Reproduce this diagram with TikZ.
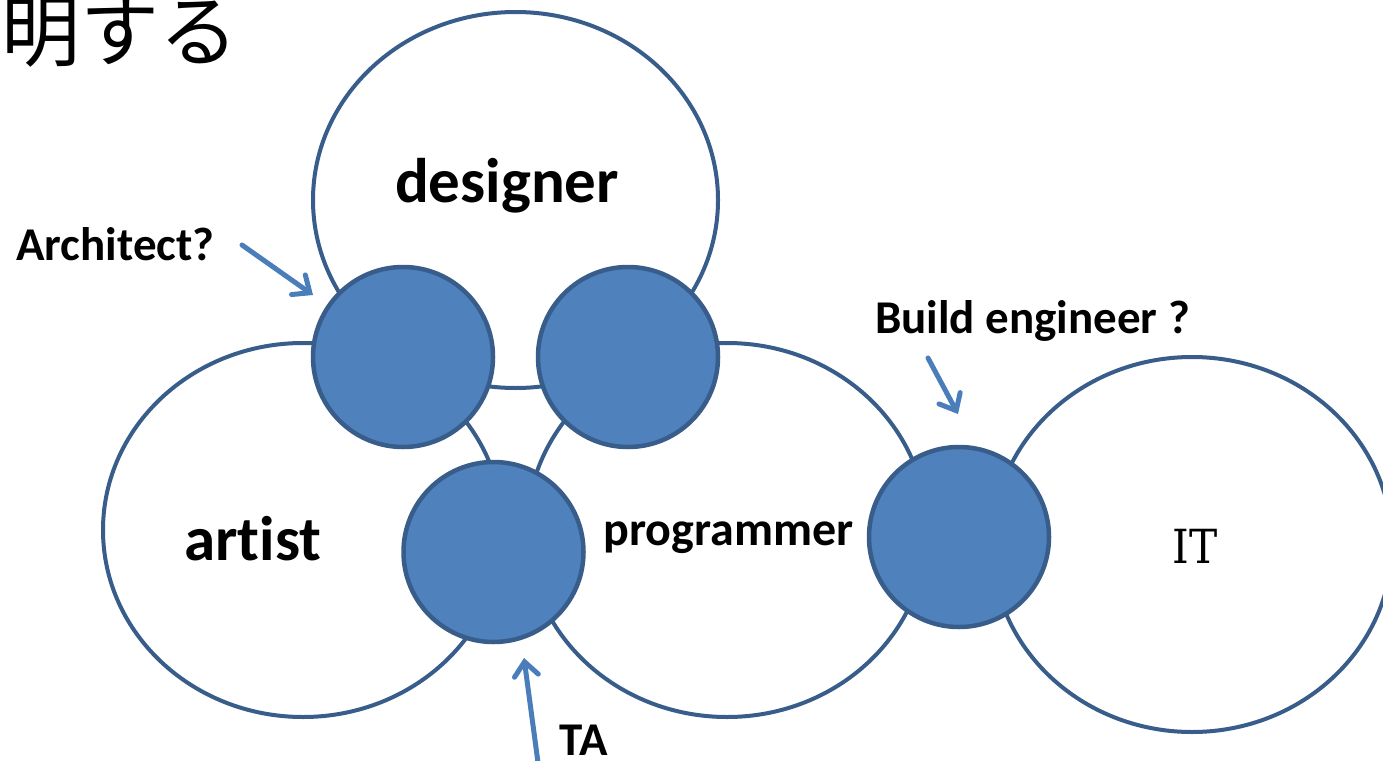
\documentclass[tikz,border=0pt]{standalone}
\usepackage{fontspec}
\setmainfont[Ligatures=NoCommon]{Carlito}
\newfontfamily\cjk{Noto Sans CJK JP}
\newfontfamily\slabfont[FakeStretch=0.9]{DejaVu Serif}
\usetikzlibrary{arrows.meta,shapes.geometric}
\definecolor{ringline}{HTML}{385D8A}
\definecolor{dotfill}{HTML}{4F81BD}
\definecolor{pointer}{HTML}{4A7EBB}

\begin{document}
\begin{tikzpicture}[x=1pt,y=-1pt,
  role/.style={ellipse, draw=ringline, line width=4pt, fill=white,
    minimum width=400pt, minimum height=374pt, inner sep=0pt},
  overlap/.style={circle, draw=ringline, line width=4.5pt, fill=dotfill,
    minimum size=180pt, inner sep=0pt},
  bigword/.style={font=\bfseries\fontsize{63}{70}\selectfont, anchor=base, inner sep=0pt},
  note/.style={font=\bfseries\fontsize{47}{52}\selectfont, anchor=base, inner sep=0pt},
  pointerarrow/.style={draw=pointer, line width=5pt, line cap=round,
    -{Straight Barb[length=14pt, width=24pt, line cap=round]}}]
\useasboundingbox (0,0) rectangle (1383,760);
\clip (0,0) rectangle (1383,760);

% heading fragment
\node[font=\cjk\fontsize{79}{82}\selectfont, anchor=base east, inner sep=0pt] (heading) at (239,60) {明する};

% the four disciplines
\node[role, minimum width=405pt, minimum height=376pt] (designer) at (515.5,200) {};
\node[role] (artist) at (303,530) {};
\node[role] (programmer) at (727,530) {};
\node[role, minimum height=375pt] (it) at (1192,544.5) {};

% overlapping roles
\node[overlap] (architect) at (403,357) {};
\node[overlap] (designprog) at (628,357) {};
\node[overlap] (ta) at (493.5,552) {};
\node[overlap] (build) at (959,537) {};

% labels
\node[bigword] (designerlabel) at (507,202) {designer};
\node[bigword] (artistlabel) at (253,560) {artist};
\node[font=\bfseries\fontsize{48}{52}\selectfont, anchor=base, inner sep=0pt] (programmerlabel) at (728.5,545) {programmer};
\node[font=\slabfont\fontsize{47}{52}\selectfont, anchor=base, inner sep=0pt] (itlabel) at (1195,563) {IT};

\node[note] (architectlabel) at (115.5,260) {Architect?};
\node[note] (buildlabel) at (1032.5,333) {Build engineer ?};
\node[note] (talabel) at (583.5,755) {TA};

% pointers
\coordinate (architecttail) at (242,245);
\coordinate (architecttip) at (313,295);
\coordinate (buildtail) at (928,358);
\coordinate (buildtip) at (958,414);
\coordinate (tatail) at (541,785);
\coordinate (tatip) at (524,658);
\draw[pointerarrow] (architecttail) -- (architecttip);
\draw[pointerarrow] (buildtail) -- (buildtip);
\draw[pointerarrow] (tatail) -- (tatip);
\end{tikzpicture}
\end{document}
